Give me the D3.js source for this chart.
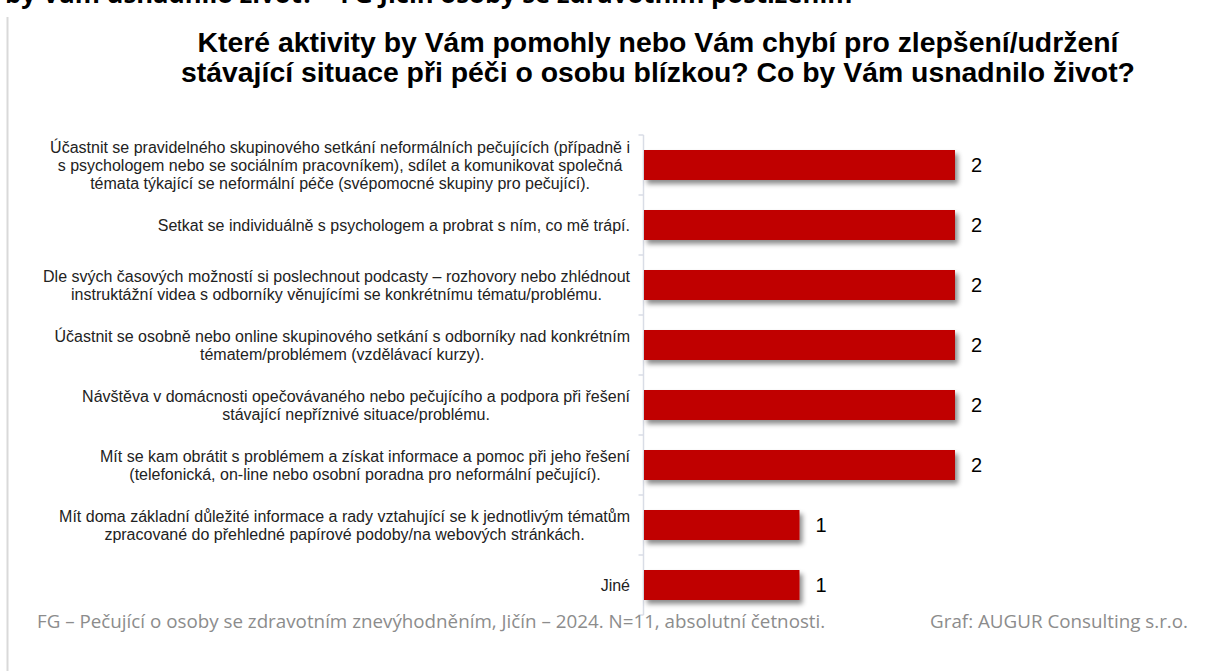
<!DOCTYPE html>
<html><head><meta charset="utf-8">
<script src="https://cdn.jsdelivr.net/npm/d3@7"></script>
<style>
html,body{margin:0;padding:0;background:#fff;}
svg{display:block;}
</style></head>
<body>
<svg id="chart" width="1209" height="671"></svg>
<script>
const categories = [
  ["Účastnit se pravidelného skupinového setkání neformálních pečujících (případně i",
   "s psychologem nebo se sociálním pracovníkem), sdílet a komunikovat společná",
   "témata týkající se neformální péče (svépomocné skupiny pro pečující)."],
  ["Setkat se individuálně s psychologem a probrat s ním, co mě trápí."],
  ["Dle svých časových možností si poslechnout podcasty – rozhovory nebo zhlédnout",
   "instruktážní videa s odborníky věnujícími se konkrétnímu tématu/problému."],
  ["Účastnit se osobně nebo online skupinového setkání s odborníky nad konkrétním",
   "tématem/problémem (vzdělávací kurzy)."],
  ["Návštěva v domácnosti opečovávaného nebo pečujícího a podpora při řešení",
   "stávající nepříznivé situace/problému."],
  ["Mít se kam obrátit s problémem a získat informace a pomoc při jeho řešení",
   "(telefonická, on-line nebo osobní poradna pro neformální pečující)."],
  ["Mít doma základní důležité informace a rady vztahující se k jednotlivým tématům",
   "zpracované do přehledné papírové podoby/na webových stránkách."],
  ["Jiné"]
];
const values = [2, 2, 2, 2, 2, 2, 1, 1];
const titleLines = [
  "Které aktivity by Vám pomohly nebo Vám chybí pro zlepšení/udržení",
  "stávající situace při péči o osobu blízkou? Co by Vám usnadnilo život?"
];
const topCutText = "by Vám usnadnilo život? – FG Jičín osoby se zdravotním postižením";
const footerLeft = "FG – Pečující o osoby se zdravotním znevýhodněním, Jičín – 2024. N=11, absolutní četnosti.";
const footerRight = "Graf: AUGUR Consulting s.r.o.";

const svg = d3.select("#chart");
const idx = d3.range(categories.length);

// scale a text element's font size so it reaches a target width
function fitWidth(sel, target) {
  const fs = parseFloat(sel.attr("font-size"));
  const w = sel.node().getComputedTextLength();
  sel.attr("font-size", fs * target / w);
  return fs * target / w;
}

const x = d3.scaleLinear().domain([0, 2]).range([644, 955]);
const y = d3.scaleBand().domain(idx).range([135, 615]).paddingInner(0.5).paddingOuter(0.25);

// shadow filter
const defs = svg.append("defs");
const f = defs.append("filter").attr("id", "shadow").attr("x", "-5%").attr("y", "-30%").attr("width", "115%").attr("height", "190%");
f.append("feDropShadow").attr("dx", 3).attr("dy", 4).attr("stdDeviation", 2.5)
  .attr("flood-color", "#000").attr("flood-opacity", 0.45);

// top cut-off text
const topText = svg.append("text").attr("x", 5).attr("y", 3)
  .attr("font-family", "'Open Sans', sans-serif").attr("font-weight", "bold")
  .attr("font-size", 20).attr("fill", "#000").text(topCutText);
fitWidth(topText, 848);

// left frame line
svg.append("line").attr("x1", 7.5).attr("x2", 7.5).attr("y1", 17).attr("y2", 671)
  .attr("stroke", "#d9d9d9").attr("stroke-width", 2);

// title
const title = svg.append("text").attr("text-anchor", "middle")
  .attr("font-family", "'Liberation Sans', Arial, sans-serif").attr("font-weight", "bold")
  .attr("font-size", 22).attr("fill", "#000");
const tspans = titleLines.map((t, i) => title.append("tspan").attr("x", 658).attr("y", 52 + i * 30).text(t));
{
  const w0 = tspans[0].node().getComputedTextLength();
  title.attr("font-size", 22 * 921 / w0);
}

// axis
const yAxis = svg.append("g").attr("transform", "translate(643.5,0)");
yAxis.append("line").attr("y1", 135).attr("y2", 615).attr("stroke", "#d9dde6").attr("stroke-width", 1.5);
const boundaries = d3.range(categories.length + 1).map(i => y.range()[0] + i * y.step());
yAxis.selectAll(".tk").data(boundaries).join("line").attr("class", "tk")
  .attr("x1", -5).attr("x2", 0).attr("y1", d => d).attr("y2", d => d)
  .attr("stroke", "#d9dde6").attr("stroke-width", 1.5);

// bars
svg.append("g").selectAll("rect").data(idx).join("rect")
  .attr("x", x(0)).attr("y", i => y(i))
  .attr("width", i => x(values[i]) - x(0)).attr("height", y.bandwidth())
  .attr("fill", "#C00000").attr("filter", "url(#shadow)");

// value labels
svg.append("g").selectAll("text").data(idx).join("text")
  .attr("x", i => x(values[i]) + 16).attr("y", i => y(i) + y.bandwidth() / 2)
  .attr("dy", "0.36em")
  .attr("font-family", "'Liberation Sans', Arial, sans-serif").attr("font-size", 20)
  .attr("fill", "#000").text(i => values[i]);

// category labels: block right-aligned, lines centered
const lineH = 18;
const labG = svg.append("g").attr("font-family", "'Liberation Sans', Arial, sans-serif")
  .attr("font-size", 13.5).attr("fill", "#222");
{
  const probe = labG.append("text").text(categories[0][0]);
  const fs = fitWidth(probe, 583);
  labG.attr("font-size", fs);
  probe.remove();
}
idx.forEach(i => {
  const lines = categories[i];
  const t = labG.append("text").attr("text-anchor", "middle");
  const cy = y(i) + y.bandwidth() / 2;
  const spans = lines.map((ln, k) => t.append("tspan")
    .attr("y", cy + (k - (lines.length - 1) / 2) * lineH).attr("dy", "0.35em").text(ln));
  const maxW = d3.max(spans, s => s.node().getComputedTextLength());
  const cx = 630 - maxW / 2;
  spans.forEach(s => s.attr("x", cx));
});

// footer
const fl = svg.append("text").attr("x", 37).attr("y", 628)
  .attr("font-family", "'Open Sans', sans-serif").attr("font-size", 15)
  .attr("fill", "#8c8c8c").text(footerLeft);
const ffs = fitWidth(fl, 789);
svg.append("text").attr("x", 1188).attr("y", 628).attr("text-anchor", "end")
  .attr("font-family", "'Open Sans', sans-serif").attr("font-size", ffs)
  .attr("fill", "#8c8c8c").text(footerRight);
</script>
</body></html>
